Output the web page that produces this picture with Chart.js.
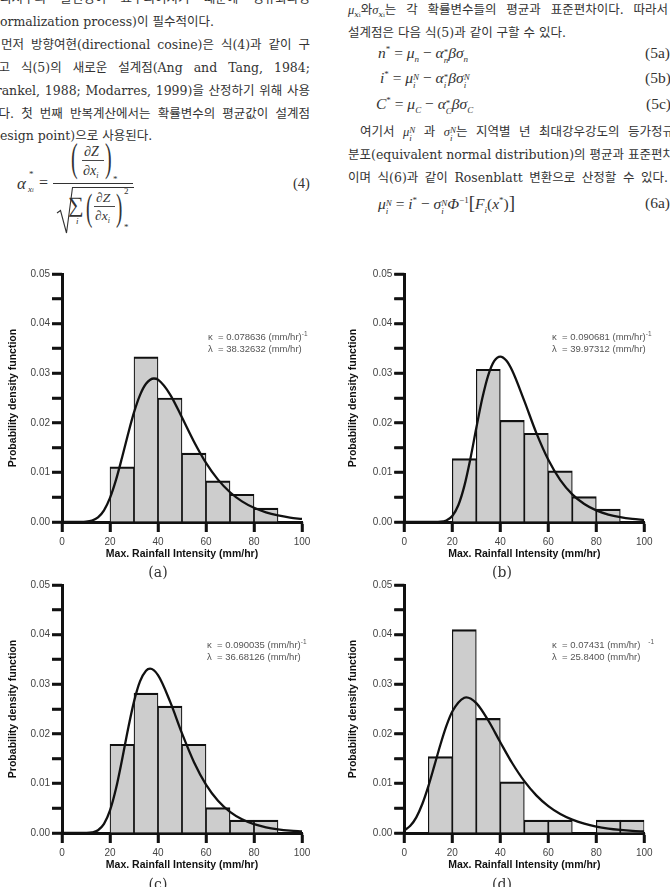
<!DOCTYPE html>
<html><head><meta charset="utf-8">
<script src="https://cdn.jsdelivr.net/npm/chart.js@4.4.1/dist/chart.umd.min.js"></script>
<style>
html,body{margin:0;padding:0;background:#fff;}
body{width:670px;height:887px;position:relative;overflow:hidden;font-family:"DejaVu Serif","Noto Sans CJK KR",serif;color:#333;}
.ln{position:absolute;font-size:12.5px;line-height:20px;height:20px;white-space:nowrap;}
.j{text-align:justify;text-align-last:justify;}
.ln sub{font-size:8px;vertical-align:-3px;line-height:0;}
.ln sup{font-size:8px;vertical-align:5px;line-height:0;}
.eq{position:absolute;font-family:"Liberation Serif",serif;font-size:15.5px;line-height:20px;height:20px;white-space:nowrap;color:#333;}
.eq sub{font-size:9px;vertical-align:-4px;line-height:0;}
.eq sup{font-size:9px;vertical-align:6px;line-height:0;}
.ss{display:inline-block;vertical-align:-5px;line-height:8px;font-size:9px;text-align:left;}
.m{position:absolute;font-family:"Liberation Serif",serif;font-style:italic;line-height:1;white-space:nowrap;color:#333;}
.up{font-style:normal;}
canvas{position:absolute;}
.cap{position:absolute;font-family:"DejaVu Serif",serif;font-size:14px;line-height:16px;transform:translateX(-50%);color:#333;}
.ann{position:absolute;font-family:"Liberation Sans",Arial,sans-serif;font-size:9.5px;line-height:12px;color:#555;white-space:nowrap;}
.ann sup{font-size:6.5px;vertical-align:4px;line-height:0;}
</style></head>
<body>
<!-- left column text -->
<div class="ln j" style="left:0px;top:-11px;width:310px;">되지수의 불변성이 요구되어지기 때문에 정규화과정</div>
<div class="ln" style="left:-13px;top:12px;width:322px;">(normalization process)이 필수적이다.</div>
<div class="ln j" style="left:1px;top:35px;width:309px;">먼저 방향여현(directional cosine)은 식(4)과 같이 구</div>
<div class="ln j" style="left:-13px;top:58px;width:323px;">하고 식(5)의 새로운 설계점(Ang and Tang, 1984;</div>
<div class="ln j" style="left:-13px;top:81px;width:323px;">Frankel, 1988; Modarres, 1999)을 산정하기 위해 사용</div>
<div class="ln j" style="left:-13px;top:104px;width:323px;">한다. 첫 번째 반복계산에서는 확률변수의 평균값이 설계점</div>
<div class="ln" style="left:-13px;top:126px;width:322px;">(design point)으로 사용된다.</div>

<!-- equation (4) -->
<svg style="position:absolute;left:0;top:0" width="335" height="250">
  <line x1="53" y1="183.5" x2="133" y2="183.5" stroke="#333" stroke-width="1"/>
  <line x1="82" y1="160.5" x2="104" y2="160.5" stroke="#333" stroke-width="0.9"/>
  <line x1="94" y1="206.5" x2="115" y2="206.5" stroke="#333" stroke-width="0.9"/>
  <path d="M57 213 L60.5 210.5 L66.5 233 L72.5 187.5 L134 187.5" stroke="#333" stroke-width="1.1" fill="none"/>
</svg>
<div class="m" style="left:17px;top:175px;font-size:17px">α</div>
<div class="m up" style="left:29px;top:170px;font-size:9px">*</div>
<div class="m" style="left:28px;top:185px;font-size:9px">x<span style="font-size:6px">i</span></div>
<div class="m up" style="left:39px;top:175px;font-size:16px">=</div>
<div class="m up" style="left:71px;top:138px;font-size:40px;transform:scaleX(.5);transform-origin:left top">(</div>
<div class="m" style="left:84px;top:145px;font-size:14px">∂Z</div>
<div class="m" style="left:83px;top:164px;font-size:14px">∂x<span style="font-size:8px;vertical-align:-3px">i</span></div>
<div class="m up" style="left:105px;top:138px;font-size:40px;transform:scaleX(.5);transform-origin:left top">)</div>
<div class="m up" style="left:113px;top:175px;font-size:9px">*</div>
<div class="m up" style="left:68px;top:194px;font-size:22px">∑</div>
<div class="m" style="left:76px;top:217px;font-size:9px">i</div>
<div class="m up" style="left:86px;top:188px;font-size:38px;transform:scaleX(.5);transform-origin:left top">(</div>
<div class="m" style="left:96px;top:191px;font-size:13.5px">∂Z</div>
<div class="m" style="left:95px;top:209px;font-size:13.5px">∂x<span style="font-size:8px;vertical-align:-3px">i</span></div>
<div class="m up" style="left:116px;top:188px;font-size:38px;transform:scaleX(.5);transform-origin:left top">)</div>
<div class="m up" style="left:124px;top:187px;font-size:9px">2</div>
<div class="m up" style="left:124px;top:223px;font-size:9px">*</div>
<div class="m up" style="left:293px;top:176px;font-size:14.5px">(4)</div>

<!-- right column text -->
<div class="ln j" style="left:348px;top:0px;width:320px;"><i style="font-family:'Liberation Serif'">μ</i><sub><i>x</i><span style="font-size:6px">i</span></sub>와<i style="font-family:'Liberation Serif'">σ</i><sub><i>x</i><span style="font-size:6px">i</span></sub>는 각 확률변수들의 평균과 표준편차이다. 따라서</div>
<div class="ln" style="left:348px;top:23px;width:320px;">설계점은 다음 식(5)과 같이 구할 수 있다.</div>
<div class="eq" style="left:378px;top:43px;"><i>n</i><sup>*</sup> = <i>μ</i><sub><i>n</i></sub> − <i>α</i><span class="ss">*<br><i>n</i></span><i>βσ</i><sub><i>n</i></sub></div>
<div class="eq" style="left:645px;top:43px;">(5a)</div>
<div class="eq" style="left:380px;top:68px;"><i>i</i><sup>*</sup> = <i>μ</i><span class="ss"><i>N</i><br><i>i</i></span> − <i>α</i><span class="ss">*<br><i>i</i></span><i>βσ</i><span class="ss"><i>N</i><br><i>i</i></span></div>
<div class="eq" style="left:645px;top:68px;">(5b)</div>
<div class="eq" style="left:376px;top:94px;"><i>C</i><sup>*</sup> = <i>μ</i><sub><i>C</i></sub> − <i>α</i><span class="ss">*<br><i>C</i></span><i>βσ</i><sub><i>C</i></sub></div>
<div class="eq" style="left:646px;top:94px;">(5c)</div>
<div class="ln j" style="left:360px;top:122px;width:314px;">여기서 <i style="font-family:'Liberation Serif'">μ</i><span class="ss" style="font-family:'Liberation Serif'"><i>N</i><br><i>i</i></span> 과 <i style="font-family:'Liberation Serif'">σ</i><span class="ss" style="font-family:'Liberation Serif'"><i>N</i><br><i>i</i></span>는 지역별 년 최대강우강도의 등가정규</div>
<div class="ln j" style="left:348px;top:145px;width:326px;">분포(equivalent normal distribution)의 평균과 표준편차</div>
<div class="ln j" style="left:348px;top:168px;width:320px;">이며 식(6)과 같이 Rosenblatt 변환으로 산정할 수 있다.</div>
<div class="eq" style="left:378px;top:193px;"><i>μ</i><span class="ss"><i>N</i><br><i>i</i></span> = <i>i</i><sup>*</sup> − <i>σ</i><span class="ss"><i>N</i><br><i>i</i></span><i>Φ</i><sup>−1</sup><span style="font-size:19px">[</span><i>F</i><sub><i>i</i></sub>(<i>x</i><sup>*</sup>)<span style="font-size:19px">]</span></div>
<div class="eq" style="left:645px;top:193px;">(6a)</div>

<canvas id="cA" width="335" height="312" style="left:0px;top:258px;"></canvas>
<canvas id="cB" width="330" height="312" style="left:340px;top:258px;"></canvas>
<canvas id="cC" width="335" height="312" style="left:0px;top:569px;"></canvas>
<canvas id="cD" width="330" height="312" style="left:340px;top:569px;"></canvas>

<div class="ann" style="left:208px;top:331px;">κ&nbsp;&nbsp;= 0.078636 (mm/hr)<sup>-1</sup><br>λ&nbsp;&nbsp;= 38.32632 (mm/hr)</div>
<div class="ann" style="left:552px;top:331px;">κ&nbsp;&nbsp;= 0.090681 (mm/hr)<sup>-1</sup><br>λ&nbsp;&nbsp;= 39.97312 (mm/hr)</div>
<div class="ann" style="left:207px;top:639px;">κ&nbsp;&nbsp;= 0.090035 (mm/hr)<sup>-1</sup><br>λ&nbsp;&nbsp;= 36.68126 (mm/hr)</div>
<div class="ann" style="left:552px;top:639px;">κ&nbsp;&nbsp;= 0.07431 (mm/hr)&nbsp;&nbsp;&nbsp;<sup>-1</sup><br>λ&nbsp;&nbsp;= 25.8400 (mm/hr)</div>

<div class="cap" style="left:158px;top:564px;">(a)</div>
<div class="cap" style="left:502px;top:564px;">(b)</div>
<div class="cap" style="left:158px;top:876px;">(c)</div>
<div class="cap" style="left:502px;top:876px;">(d)</div>

<script>
// ---- data ----
const xTicks = [0, 20, 40, 60, 80, 100];
const yTickLabels = ['0.00', '0.01', '0.02', '0.03', '0.04', '0.05'];

// histogram bin centres (10 mm/hr bins) and densities
const binsA = [25, 35, 45, 55, 65, 75, 85];
const densA = [0.0111, 0.0333, 0.0250, 0.0139, 0.0083, 0.0056, 0.0028];
const binsB = [25, 35, 45, 55, 65, 75, 85];
const densB = [0.0128, 0.0308, 0.0205, 0.0179, 0.0103, 0.0051, 0.0026];
const binsC = [25, 35, 45, 55, 65, 75, 85];
const densC = [0.0179, 0.0282, 0.0256, 0.0179, 0.0051, 0.0026, 0.0026];
const binsD = [15, 25, 35, 45, 55, 65, 75, 85, 95];
const densD = [0.0154, 0.0410, 0.0231, 0.0103, 0.0026, 0.0026, 0, 0.0026, 0.0026];

// fitted density curves
const curveXA = [0, 5, 10, 12.5, 15, 17.5, 20, 22.5, 25, 27.5, 30, 32.5, 35, 38.3, 40, 45, 50, 55, 60, 65, 70, 75, 80, 85, 90, 95, 100];
const curveYA = [0, 0, 0.00007, 0.00029, 0.00094, 0.00236, 0.00486, 0.00848, 0.01295, 0.01770, 0.02209, 0.02558, 0.02787, 0.02893, 0.02869, 0.02575, 0.02106, 0.01619, 0.01192, 0.00854, 0.00600, 0.00416, 0.00286, 0.00195, 0.00133, 0.00090, 0.00061];
const curveXB = [0, 5, 10, 15, 17.5, 20, 22.5, 25, 27.5, 30, 32.5, 35, 37.5, 40, 42.5, 45, 50, 55, 60, 65, 70, 75, 80, 85, 90, 95, 100];
const curveYB = [0, 0, 0, 0.00006, 0.00032, 0.00122, 0.00337, 0.00723, 0.01267, 0.01894, 0.02493, 0.02962, 0.03247, 0.03336, 0.03256, 0.03050, 0.02442, 0.01797, 0.01254, 0.00845, 0.00558, 0.00363, 0.00234, 0.00150, 0.00096, 0.00061, 0.00039];
const curveXC = [0, 5, 10, 12.5, 15, 17.5, 20, 22.5, 25, 27.5, 30, 32.5, 35, 36.7, 40, 45, 50, 55, 60, 65, 70, 75, 80, 85, 90, 95, 100];
const curveYC = [0, 0, 0.00002, 0.00012, 0.00056, 0.00183, 0.00454, 0.00895, 0.01472, 0.02093, 0.02649, 0.03056, 0.03273, 0.03312, 0.03181, 0.02653, 0.02008, 0.01428, 0.00976, 0.00650, 0.00427, 0.00277, 0.00179, 0.00115, 0.00074, 0.00047, 0.00030];
const curveXD = [0, 2.5, 5, 7.5, 10, 12.5, 15, 17.5, 20, 25, 25.8, 30, 35, 40, 45, 50, 55, 60, 65, 70, 75, 80, 85, 90, 95, 100];
const curveYD = [0.00055, 0.00146, 0.00316, 0.00584, 0.00940, 0.01353, 0.01774, 0.02153, 0.02450, 0.02728, 0.02734, 0.02618, 0.02268, 0.01830, 0.01406, 0.01045, 0.00759, 0.00542, 0.00383, 0.00269, 0.00188, 0.00130, 0.00090, 0.00063, 0.00043, 0.00030];

const xTitle = 'Max. Rainfall Intensity (mm/hr)';
const yTitle = 'Probability density function';

// outward tick marks, placed with the chart's own scales
const tickMarks = {
  id: 'tickMarks',
  afterDraw(chart) {
    const ctx = chart.ctx, ca = chart.chartArea, xs = chart.scales.x, ys = chart.scales.y;
    ctx.save();
    ctx.strokeStyle = '#111';
    ctx.lineWidth = 2.5;
    ys.ticks.forEach(t => {
      const py = Math.round(ys.getPixelForValue(t.value));
      ctx.beginPath(); ctx.moveTo(ca.left - 10, py); ctx.lineTo(ca.left, py); ctx.stroke();
    });
    xs.ticks.forEach(t => {
      const px = Math.round(xs.getPixelForValue(t.value));
      ctx.beginPath(); ctx.moveTo(px, ca.bottom); ctx.lineTo(px, ca.bottom + 10); ctx.stroke();
    });
    ctx.restore();
  }
};

// ---- chart builder ----
function makeChart(id, bx, by, cx, cy, yWidth, padRight) {
  const ink = '#111';
  return new Chart(document.getElementById(id), {
    type: 'bar',
    data: {
      datasets: [
        { type: 'line', data: cx.map((x, i) => ({ x: x, y: cy[i] })), borderColor: ink, borderWidth: 2.3,
          pointRadius: 0, cubicInterpolationMode: 'monotone', fill: false, order: 0 },
        { type: 'bar', data: bx.map((x, i) => ({ x: x, y: by[i] })), backgroundColor: '#cdcdcd', borderColor: ink,
          borderWidth: { top: 2.2, left: 1.2, right: 1.2, bottom: 0 }, borderSkipped: 'start',
          barPercentage: 1, categoryPercentage: 1, order: 1 }
      ]
    },
    plugins: [tickMarks],
    options: {
      responsive: false, animation: false, devicePixelRatio: 1,
      layout: { padding: { top: 16, right: padRight, left: 0, bottom: 0 } },
      plugins: { legend: { display: false }, tooltip: { enabled: false } },
      scales: {
        x: {
          type: 'linear', min: 0, max: 100, offset: false,
          grid: { display: true, drawOnChartArea: false, drawTicks: true, tickLength: 10, tickWidth: 2.5, tickColor: ink, offset: false },
          border: { display: true, color: ink, width: 3 },
          ticks: { stepSize: 20, autoSkip: false, maxRotation: 0, padding: 4, color: '#444',
                   font: { family: 'Liberation Sans', size: 10 },
                   callback: v => (xTicks.includes(v) ? String(v) : '') },
          title: { display: true, text: xTitle, color: ink, font: { family: 'Liberation Sans', size: 10.5, weight: 'bold' },
                   padding: { top: 0, bottom: 9.7 } },
          afterFit: s => { s.height = 48; }
        },
        y: {
          min: 0, max: 0.05,
          grid: { display: true, drawOnChartArea: false, drawTicks: true, tickLength: 10, tickWidth: 2.5, tickColor: ink },
          border: { display: true, color: ink, width: 3 },
          ticks: { stepSize: 0.005, autoSkip: false, padding: 2, color: '#444',
                   font: { family: 'Liberation Sans', size: 10 },
                   callback: v => { const k = Math.round(v * 1000); return k % 10 === 0 ? yTickLabels[k / 10] : ''; } },
          title: { display: true, text: yTitle, color: ink, font: { family: 'Liberation Sans', size: 10.5, weight: 'bold' },
                   padding: { top: 6.7, bottom: 0 } },
          afterFit: s => { s.width = yWidth; }
        }
      }
    }
  });
}

makeChart('cA', binsA, densA, curveXA, curveYA, 62, 33);
makeChart('cB', binsB, densB, curveXB, curveYB, 64.3, 25.7);
makeChart('cC', binsC, densC, curveXC, curveYC, 62, 33);
makeChart('cD', binsD, densD, curveXD, curveYD, 64.3, 25.7);
</script>
</body></html>
